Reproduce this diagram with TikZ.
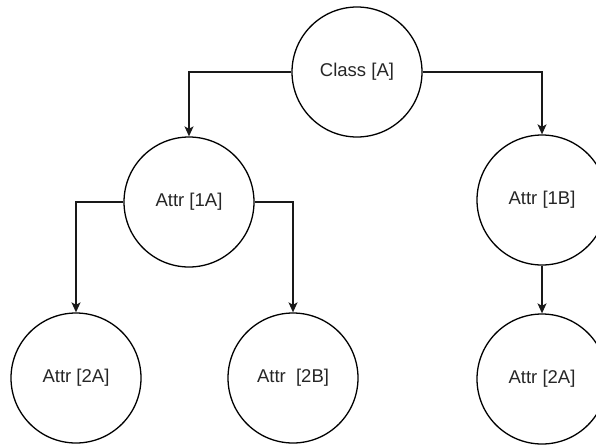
\documentclass[tikz,border=0pt]{standalone}
\usepackage{fontspec}
\setmainfont{Liberation Sans}
\usetikzlibrary{arrows.meta}
\begin{document}
\begin{tikzpicture}[x=1pt,y=-1pt,
  treenode/.style={circle,draw=black,line width=1.3pt,minimum size=130pt,inner sep=0pt,
    text=black!85,font=\fontsize{18.5}{22}\selectfont},
  link/.style={line width=1.3pt,draw=black!90,-{Stealth[length=10pt,width=9pt,inset=2.5pt]}}]
  \useasboundingbox (0,0) rectangle (596,444);
  \node[treenode] (cls) at (357,72) {Class [A]};
  \node[treenode] (a1) at (189,202) {Attr [1A]};
  \node[treenode] (b1) at (542,200) {Attr [1B]};
  \node[treenode] (a2) at (76,378) {Attr [2A]};
  \node[treenode] (b2) at (293,378) {Attr\ \ [2B]};
  \node[treenode] (c2) at (542,379) {Attr [2A]};
  \draw[link] (cls.west) -| (a1.north);
  \draw[link] (cls.east) -| (b1.north);
  \draw[link] (a1.west) -| (a2.north);
  \draw[link] (a1.east) -| (b2.north);
  \draw[link] (b1.south) -- (c2.north);
\end{tikzpicture}
\end{document}
